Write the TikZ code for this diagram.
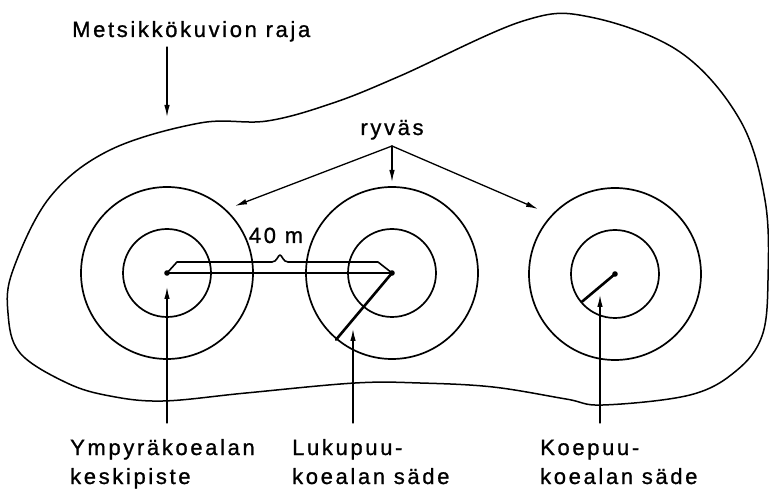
\documentclass[tikz,border=0pt]{standalone}
\usepackage{fontspec}
\setmainfont{Liberation Sans}[LetterSpace=12, FakeBold=1]
\usetikzlibrary{arrows.meta}

\begin{document}
\begin{tikzpicture}[x=1pt, y=-1pt, line cap=round,
  pointer/.style={line width=1.3pt, -{Latex[length=12pt,width=5.5pt]}},
  ring/.style={line width=1.7pt},
  radius line/.style={line width=2.6pt},
  lbl/.style={font=\fontsize{22}{29}\selectfont, inner sep=0pt, align=left}]
  \useasboundingbox (0,0) rectangle (769,494);
  \draw[line width=1.5pt] plot[smooth cycle, tension=0.6] coordinates {(110,150) (200,123) (267,121) (333,103) (400,76) (523,21) (590,17) (680,52) (740,120) (765,200) (768,280) (762,336) (736,371) (690,395) (603,405) (566,399) (493,387) (420,383) (355,383) (246,393) (163,401) (110,396) (67,383) (20,353) (8,313) (13,270) (50,197)};
  \coordinate (cA) at (167,273);
  \coordinate (cB) at (392,273);
  \coordinate (cC) at (615,274);
  \foreach \c in {cA,cB,cC} {\draw[ring] (\c) circle (44pt) (\c) circle (86pt); \fill (\c) circle (2.8pt);}
  \draw[radius line] (cB) -- ++(130:87);
  \draw[radius line] (cC) -- ++(140:43);
  \draw[line width=1.6pt] (cA) -- (cB);
  \draw[line width=1.6pt, line join=round] (cA) -- ++(10,-11) -- (272,262) .. controls (277,262) and (278,255) .. (280,255) .. controls (282,255) and (283,262) .. (288,262) -- (378,262) -- (cB);
  \node[lbl, anchor=base] (dist) at (276,243) {40 m};
  \node[lbl, anchor=base west] (boundary) at (72,37) {Metsikkökuvion raja};
  \coordinate (boundaryTail) at (167,47);
  \coordinate (boundaryTip) at (167,117);
  \draw[pointer] (boundaryTail) -- (boundaryTip);
  \node[lbl, anchor=base] (cluster) at (392,135) {ryväs};
  \coordinate (fork) at (392,146);
  \coordinate (forkA) at (235,206);
  \coordinate (forkB) at (392,182);
  \coordinate (forkC) at (538,209);
  \foreach \t in {forkA,forkB,forkC} \draw[pointer] (fork) -- (\t);
  \node[lbl, anchor=base west] (centre) at (70,484) {Ympyräkoealan\\keskipiste};
  \node[lbl, anchor=base west] (countPlot) at (292,484) {Lukupuu-\\koealan säde};
  \node[lbl, anchor=base west] (samplePlot) at (540,484) {Koepuu-\\koealan säde};
  \coordinate (tailA) at (167,423);
  \coordinate (tipA) at (167,287);
  \coordinate (tailB) at (353,423);
  \coordinate (tipB) at (353,329);
  \coordinate (tailC) at (600,423);
  \coordinate (tipC) at (600,295);
  \draw[pointer] (tailA) -- (tipA);
  \draw[pointer] (tailB) -- (tipB);
  \draw[pointer] (tailC) -- (tipC);
\end{tikzpicture}
\end{document}
